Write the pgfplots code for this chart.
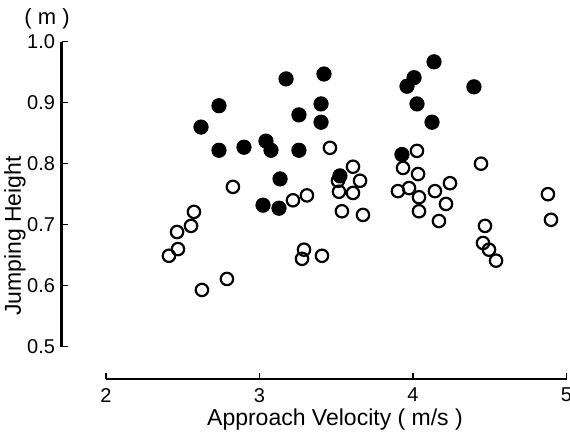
\documentclass[border=0pt]{standalone}
\usepackage{pgfplots}
\pgfplotsset{compat=1.18}
\usepackage{fontspec}
\setmainfont{Liberation Sans}
\begin{document}
\begin{tikzpicture}
\begin{axis}[
  at={(0,0)}, anchor=south west,
  scale only axis, width=252.25pt, height=168.65pt,
  xmin=1.7134, xmax=5, ymin=0.447, ymax=1.0,
  axis x line=bottom, axis y line=left,
  axis line style={draw=none},
  xtick={2,3,4,5}, xticklabels={2,3,4,5},
  ytick={0.5,0.6,0.7,0.8,0.9,1.0}, yticklabels={0.5,0.6,0.7,0.8,0.9,1.0},
  tick align=inside, major tick length=3pt,
  tick style={line width=0.8pt, black},
  ticklabel style={font=\fontsize{10}{12}\selectfont},
  xticklabel style={yshift=-1pt},
  /pgf/number format/assume math mode=true,
  clip=false,
]
\addplot[only marks, mark=o, mark size=3.1pt, mark options={line width=1.1pt, draw=black}] coordinates {
(2.827,0.762) (3.218,0.740) (3.309,0.748) (2.573,0.721) (2.554,0.698)
(2.463,0.688) (2.469,0.660) (2.410,0.649) (3.290,0.659) (3.277,0.644)
(3.407,0.649) (2.788,0.611) (2.625,0.593)
(3.459,0.826) (3.609,0.795) (3.511,0.772) (3.655,0.772) (3.518,0.754)
(3.609,0.752) (3.537,0.722) (3.674,0.716)
(4.026,0.821) (3.935,0.793) (4.033,0.783) (3.902,0.755) (3.974,0.760)
(4.039,0.745) (4.039,0.722) (4.143,0.755) (4.241,0.768) (4.215,0.734)
(4.169,0.706) (4.443,0.800)
(4.469,0.698) (4.456,0.670) (4.495,0.659) (4.541,0.641) (4.879,0.750)
(4.899,0.708)
};
\addplot[only marks, mark=*, mark size=3.6pt, mark options={fill=black, draw=black}] coordinates {
(2.619,0.860) (2.736,0.895) (2.736,0.822) (2.899,0.827) (3.042,0.837)
(3.075,0.822) (3.134,0.775) (3.173,0.939) (3.420,0.947) (3.257,0.880)
(3.401,0.898) (3.401,0.868) (3.257,0.822) (3.023,0.732) (3.127,0.727)
(3.524,0.780) (4.137,0.967) (4.007,0.941) (3.961,0.927) (4.026,0.898)
(4.124,0.868) (4.397,0.926) (3.928,0.815)
};
\draw[line width=1.5pt] (axis cs:1.7134,0.5) -- (axis cs:1.7134,1.0);
\draw[line width=1.2pt] (axis cs:2,0.447) -- (axis cs:5,0.447);
\end{axis}
\node[font=\fontsize{11}{13}\selectfont] at (-7.5pt,180pt) {( m )};
\node[font=\fontsize{11.5}{13}\selectfont, rotate=90] at (-23.5pt,71.5pt) {Jumping Height};
\node[font=\fontsize{11.5}{13}\selectfont] at (136.5pt,-20.5pt) {Approach Velocity ( m/s )};
\pgfresetboundingbox
\path[use as bounding box] (-31pt,-27.5pt) rectangle (254pt,189.5pt);
\end{tikzpicture}
\end{document}
